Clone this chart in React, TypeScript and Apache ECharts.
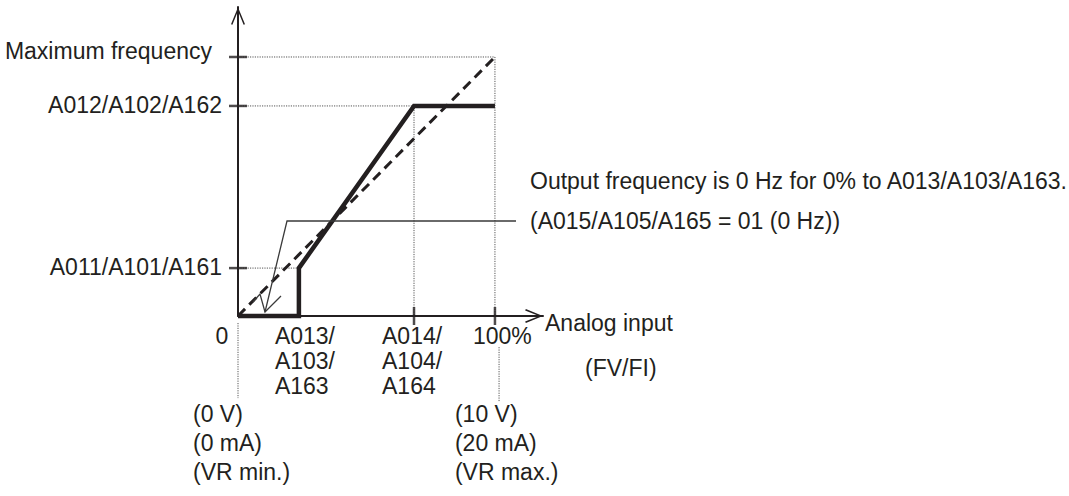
import React, { useEffect, useRef } from 'react';
import * as echarts from 'echarts';

const INK = '#231f20';
const GUIDE = '#555555';
const FONT = "'Liberation Sans', Arial, Helvetica, sans-serif";
const FS = 23;

// Values in % (input: % of analog input, output: % of maximum frequency)
const inputStart = 23.7; // A013/A103/A163
const inputEnd = 68.5; // A014/A104/A164
const inputMax = 100; // 100 %
const outputStart = 18.5; // A011/A101/A161
const outputEnd = 81.1; // A012/A102/A162
const outputMax = 100; // Maximum frequency

// axis extents (arrow tips)
const xAxisEnd = 118.7;
const yAxisEnd = 119.3;

// thick output curve (start = 01: 0 Hz below A013)
const curveX = [0, inputStart, inputStart, inputEnd, inputMax];
const curveY = [0, 0, outputStart, outputEnd, outputEnd];
// dashed reference line
const refX = [0, inputMax];
const refY = [0, outputMax];

// ticks and labels
const yTickValues = [outputMax, outputEnd, outputStart];
const yTickLabels = ['Maximum frequency', 'A012/A102/A162', 'A011/A101/A161'];
const xTickValues = [inputEnd, inputMax];
const xLabelValues = [0, inputStart, inputEnd, inputMax];
const xLabelTexts = ['0', 'A013/\nA103/\nA163', 'A014/\nA104/\nA164', '100%'];
const lowerNoteValues = [0, inputMax];
const lowerNoteTexts = ['(0 V)\n(0 mA)\n(VR min.)', '(10 V)\n(20 mA)\n(VR max.)'];
const axisTitle = 'Analog input';
const axisSubtitle = '(FV/FI)';
const noteLine1 = 'Output frequency is 0 Hz for 0% to A013/A103/A163.';
const noteLine2 = '(A015/A105/A165 = 01 (0 Hz))';

export default function App() {
  const ref = useRef<HTMLDivElement>(null);
  useEffect(() => {
    const chart = echarts.init(ref.current!, undefined, { renderer: 'svg' });
    const pair = (xs: number[], ys: number[]) => xs.map((x, i) => [x, ys[i]]);
    const arrowPath = 'path://M7,0L14,17L12.6,17.7L7,3.8L1.4,17.7L0,17Z';
    const dotted = (data: number[][]) => ({
      type: 'line',
      data,
      symbol: 'none',
      clip: false,
      silent: true,
      z: 1,
      lineStyle: { color: GUIDE, width: 1, type: [1.2, 1.2] },
    });
    const axisBase = {
      type: 'value',
      min: 0,
      axisLine: {
        show: true,
        onZero: false,
        symbol: ['none', arrowPath],
        symbolSize: [14, 18],
        symbolOffset: [0, -9],
        lineStyle: { color: INK, width: 2 },
      },
      axisTick: { show: false },
      axisLabel: { show: false },
      splitLine: { show: false },
    };
    chart.setOption({
      animation: false,
      backgroundColor: '#ffffff',
      grid: { left: 238, top: 7, right: 526, bottom: 180 },
      xAxis: { ...axisBase, max: xAxisEnd },
      yAxis: { ...axisBase, max: yAxisEnd },
      series: [
        dotted([[0, outputMax], [inputMax, outputMax], [inputMax, 0]]),
        dotted([[0, outputEnd], [inputEnd, outputEnd], [inputEnd, 0]]),
        dotted([[0, outputStart], [inputStart, outputStart]]),
        dotted([[0, -2.7], [0, -31.7]]),
        dotted([[101.6, -12], [101.6, -33]]),
        {
          type: 'line',
          data: pair(refX, refY),
          symbol: 'none',
          clip: false,
          z: 3,
          lineStyle: { color: INK, width: 3, type: [10, 6] },
        },
        {
          type: 'line',
          data: pair(curveX, curveY),
          symbol: 'none',
          clip: false,
          z: 4,
          lineStyle: { color: INK, width: 4.5, join: 'miter', cap: 'butt' },
        },
        {
          type: 'scatter',
          data: yTickValues.map((v) => [0, v]),
          symbol: 'rect',
          symbolSize: [18, 2.5],
          itemStyle: { color: INK },
          clip: false,
          z: 5,
        },
        {
          type: 'scatter',
          data: xTickValues.map((v) => [v, 0]),
          symbol: 'rect',
          symbolSize: [2.5, 18],
          itemStyle: { color: INK },
          clip: false,
          z: 5,
        },
      ],
    });

    const px = (x: number, y: number) => chart.convertToPixel({ gridIndex: 0 }, [x, y]) as number[];
    const txt = (text: string, x: number, y: number, align: string, vAlign: string, lh?: number) => ({
      type: 'text',
      x,
      y,
      z: 10,
      style: {
        text,
        fill: INK,
        fontSize: FS,
        fontFamily: FONT,
        align,
        verticalAlign: vAlign,
        lineHeight: lh,
      },
    });
    const graphics: any[] = [];
    const yOffsets = [-26, -16, -16];
    const yShift = [-6, -1, -1];
    yTickValues.forEach((v, i) => {
      const p = px(0, v);
      graphics.push(txt(yTickLabels[i], p[0] + yOffsets[i], p[1] + yShift[i], 'right', 'middle'));
    });
    const xOffsets = [-16, -24, -32, -22];
    xLabelValues.forEach((v, i) => {
      const p = px(v, 0);
      if (i === 0) graphics.push(txt(xLabelTexts[i], p[0] + xOffsets[i], p[1] + 20, 'center', 'middle'));
      else graphics.push(txt(xLabelTexts[i], p[0] + xOffsets[i], p[1] + 7.5, 'left', 'top', 25));
    });
    const noteOffsets = [-45, -40];
    lowerNoteValues.forEach((v, i) => {
      const p = px(v, 0);
      graphics.push(txt(lowerNoteTexts[i], p[0] + noteOffsets[i], p[1] + 83, 'left', 'top', 29));
    });
    const o = px(0, 0);
    graphics.push(txt(axisTitle, 545, o[1] + 7, 'left', 'middle'));
    graphics.push(txt(axisSubtitle, 585, o[1] + 52, 'left', 'middle'));
    graphics.push(txt(noteLine1, 530, 181, 'left', 'middle'));
    graphics.push(txt(noteLine2, 530, 221, 'left', 'middle'));
    // callout pointer
    graphics.push({
      type: 'polyline',
      z: 9,
      shape: { points: [[516, 221], [287, 221], [265, 312]] },
      style: { stroke: '#3a3a3a', lineWidth: 1.3, fill: 'none' },
    });
    graphics.push({
      type: 'polyline',
      z: 9,
      shape: { points: [[253, 302], [260, 294], [265, 312], [281, 296]] },
      style: { stroke: '#3a3a3a', lineWidth: 1.3, fill: 'none' },
    });
    chart.setOption({ graphic: graphics });

    return () => chart.dispose();
  }, []);
  return (
    <div
      ref={ref}
      style={{ position: 'fixed', left: 0, top: 0, width: 1069, height: 496, background: '#fff' }}
    />
  );
}
